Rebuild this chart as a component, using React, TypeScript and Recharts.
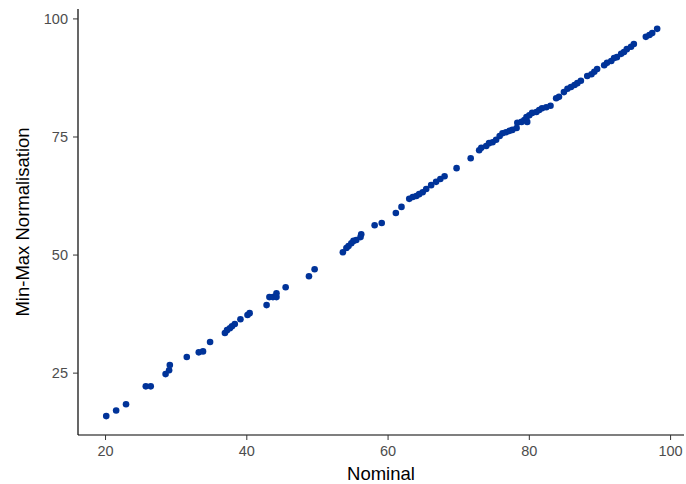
import { ScatterChart, Scatter, XAxis, YAxis, Label } from "recharts";

// values
const nominal = [
  20.1, 21.5, 22.9, 25.7, 26.4, 28.5, 29.0, 29.1, 31.5, 33.2, 33.8, 34.8, 36.9, 37.2, 37.6, 37.9,
  38.3, 39.1, 40.1, 40.4, 42.8, 43.2, 43.7, 44.2, 44.2, 45.5, 48.8, 49.6, 53.6, 54.1, 54.4, 54.8,
  55.1, 55.5, 56.1, 56.2, 58.1, 59.1, 61.1, 61.9, 63.0, 63.5, 64.0, 64.4, 64.9, 65.4, 66.1, 66.8,
  67.4, 68.0, 69.7, 71.7, 72.9, 73.2, 73.9, 74.3, 74.8, 75.3, 75.8, 76.2, 76.7, 77.2, 77.6, 78.2,
  78.3, 78.9, 79.3, 79.7, 79.6, 80.0, 80.4, 81.0, 81.4, 81.8, 82.4, 83.0, 83.8, 84.2, 84.9, 85.4,
  85.9, 86.4, 86.8, 87.3, 88.2, 88.8, 89.2, 89.6, 90.6, 91.0, 91.6, 92.0, 92.4, 93.0, 93.4, 93.8,
  94.4, 94.8, 96.5, 97.0, 97.4, 98.1,
];
const minMax = [
  15.9, 17.1, 18.4, 22.2, 22.2, 24.8, 25.6, 26.7, 28.4, 29.4, 29.6, 31.6, 33.5, 34.1, 34.5, 34.9,
  35.4, 36.4, 37.3, 37.7, 39.4, 41.1, 41.1, 41.9, 41.1, 43.2, 45.5, 47.0, 50.6, 51.5, 51.9, 52.5,
  53.0, 53.2, 53.8, 54.4, 56.3, 56.8, 58.9, 60.2, 61.9, 62.3, 62.5, 62.9, 63.3, 64.0, 64.8, 65.5,
  66.1, 66.7, 68.4, 70.5, 72.2, 72.7, 73.1, 73.7, 73.9, 74.4, 75.2, 75.8, 76.0, 76.3, 76.5, 76.9,
  78.0, 78.2, 78.6, 78.2, 79.2, 79.6, 80.1, 80.3, 80.7, 81.1, 81.3, 81.6, 83.2, 83.5, 84.5, 85.2,
  85.6, 86.0, 86.4, 86.9, 87.9, 88.3, 88.8, 89.4, 90.2, 90.7, 91.1, 91.7, 91.9, 92.6, 93.0, 93.6,
  94.1, 94.7, 96.2, 96.6, 97.0, 97.9,
];
const xTicks = [20, 40, 60, 80, 100];
const yTicks = [25, 50, 75, 100];

const data = nominal.map((x, i) => ({ x, y: minMax[i] }));

const tickStyle = { fill: "#4d4d4d", fontSize: 14.5, fontFamily: "Liberation Sans, Arial, sans-serif" };
const titleStyle = { fill: "#000", fontSize: 18.5, fontFamily: "Liberation Sans, Arial, sans-serif" };

const Dot = (props: any) => <circle cx={props.cx} cy={props.cy} r={3.3} fill="#003399" />;

export default function App() {
  return (
    <div style={{ position: "absolute", left: 0, top: 0, background: "#fff" }}>
      <ScatterChart width={686} height={484} margin={{ top: 9, right: 2, left: 0, bottom: 0 }}>
        <XAxis
          type="number"
          dataKey="x"
          domain={[16.1, 101.9]}
          ticks={xTicks}
          height={49}
          tick={tickStyle}
          tickSize={5}
          tickMargin={6}
          axisLine={{ stroke: "#000", strokeWidth: 1.2 }}
          tickLine={{ stroke: "#333" }}
        >
          <Label value="Nominal" position="insideBottom" offset={4} style={titleStyle} />
        </XAxis>
        <YAxis
          type="number"
          dataKey="y"
          domain={[11.9, 102.1]}
          ticks={yTicks}
          width={78}
          tick={tickStyle}
          tickSize={5}
          tickMargin={5}
          axisLine={{ stroke: "#000", strokeWidth: 1.2 }}
          tickLine={{ stroke: "#333" }}
        >
          <Label
            value="Min-Max Normalisation"
            angle={-90}
            position="insideLeft"
            offset={22}
            style={{ ...titleStyle, textAnchor: "middle" }}
          />
        </YAxis>
        <Scatter data={data} shape={Dot} isAnimationActive={false} />
      </ScatterChart>
    </div>
  );
}
